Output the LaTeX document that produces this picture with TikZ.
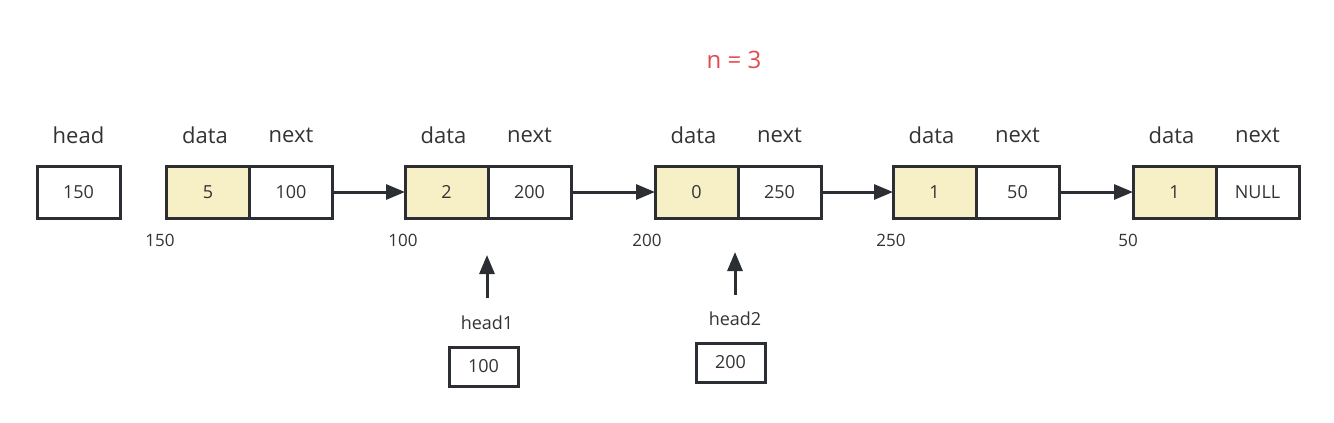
\documentclass[tikz,border=0pt]{standalone}
\usepackage{fontspec}
\setmainfont{Open Sans}
\usetikzlibrary{arrows.meta}
\definecolor{boxline}{HTML}{2B2F33}
\definecolor{txt}{HTML}{333333}
\definecolor{datafill}{HTML}{F7EFC5}
\definecolor{countred}{HTML}{E04B4D}
\tikzset{
  cell/.style={draw=boxline, line width=3pt, minimum width=83pt, minimum height=52pt,
    inner sep=0pt, outer sep=0pt, text=txt, font=\fontsize{18}{20}\selectfont},
  datacell/.style={cell, fill=datafill},
  smallbox/.style={cell, minimum width=69pt, minimum height=39pt},
  title/.style={text=txt, font=\fontsize{22}{24}\selectfont},
  addr/.style={text=txt, font=\fontsize{17}{20}\selectfont},
  link/.style={draw=boxline, line width=3pt, -{Triangle[length=19pt,width=15pt]}}
}
\begin{document}
\begin{tikzpicture}[x=1pt,y=-1pt]
\useasboundingbox (0,0) rectangle (1334,423);

\node[countred, font=\fontsize{24}{26}\selectfont] (count) at (734,60) {n = 3};

\node[cell] (head) at (78.5,192) {150};
\node[title] (headlbl) at (78.5,135) {head};

\foreach \x/\d/\n/\a/\ax [count=\i] in {208/5/100/150/160, 446.5/2/200/100/403,
    696.5/0/250/200/647, 934.5/1/50/250/891, 1174.5/1/NULL/50/1128} {
  \node[datacell] (d\i) at (\x,192) {\d};
  \node[cell, anchor=west] (n\i) at (d\i.east) {\n};
  \node[title] (dl\i) at (\x-3,135) {data};
  \node[title] (nl\i) at (n\i |- dl\i) {next};
  \node[addr] (a\i) at (\ax,240) {\a};
}

\foreach \i/\j in {1/2,2/3,3/4,4/5}
  \draw[link] (n\i.east) -- (d\j.west);

\coordinate (tip1) at (487,255);
\coordinate (tail1) at (487,298);
\coordinate (tip2) at (735,252);
\coordinate (tail2) at (735,295);
\draw[link] (tail1) -- (tip1);
\draw[link] (tail2) -- (tip2);

\node[addr, font=\fontsize{18}{20}\selectfont] (h1lbl) at (487,323) {head1};
\node[smallbox] (h1) at (483.5,366.5) {100};
\node[addr, font=\fontsize{18}{20}\selectfont] (h2lbl) at (735,319) {head2};
\node[smallbox] (h2) at (730.5,362.5) {200};
\end{tikzpicture}
\end{document}
